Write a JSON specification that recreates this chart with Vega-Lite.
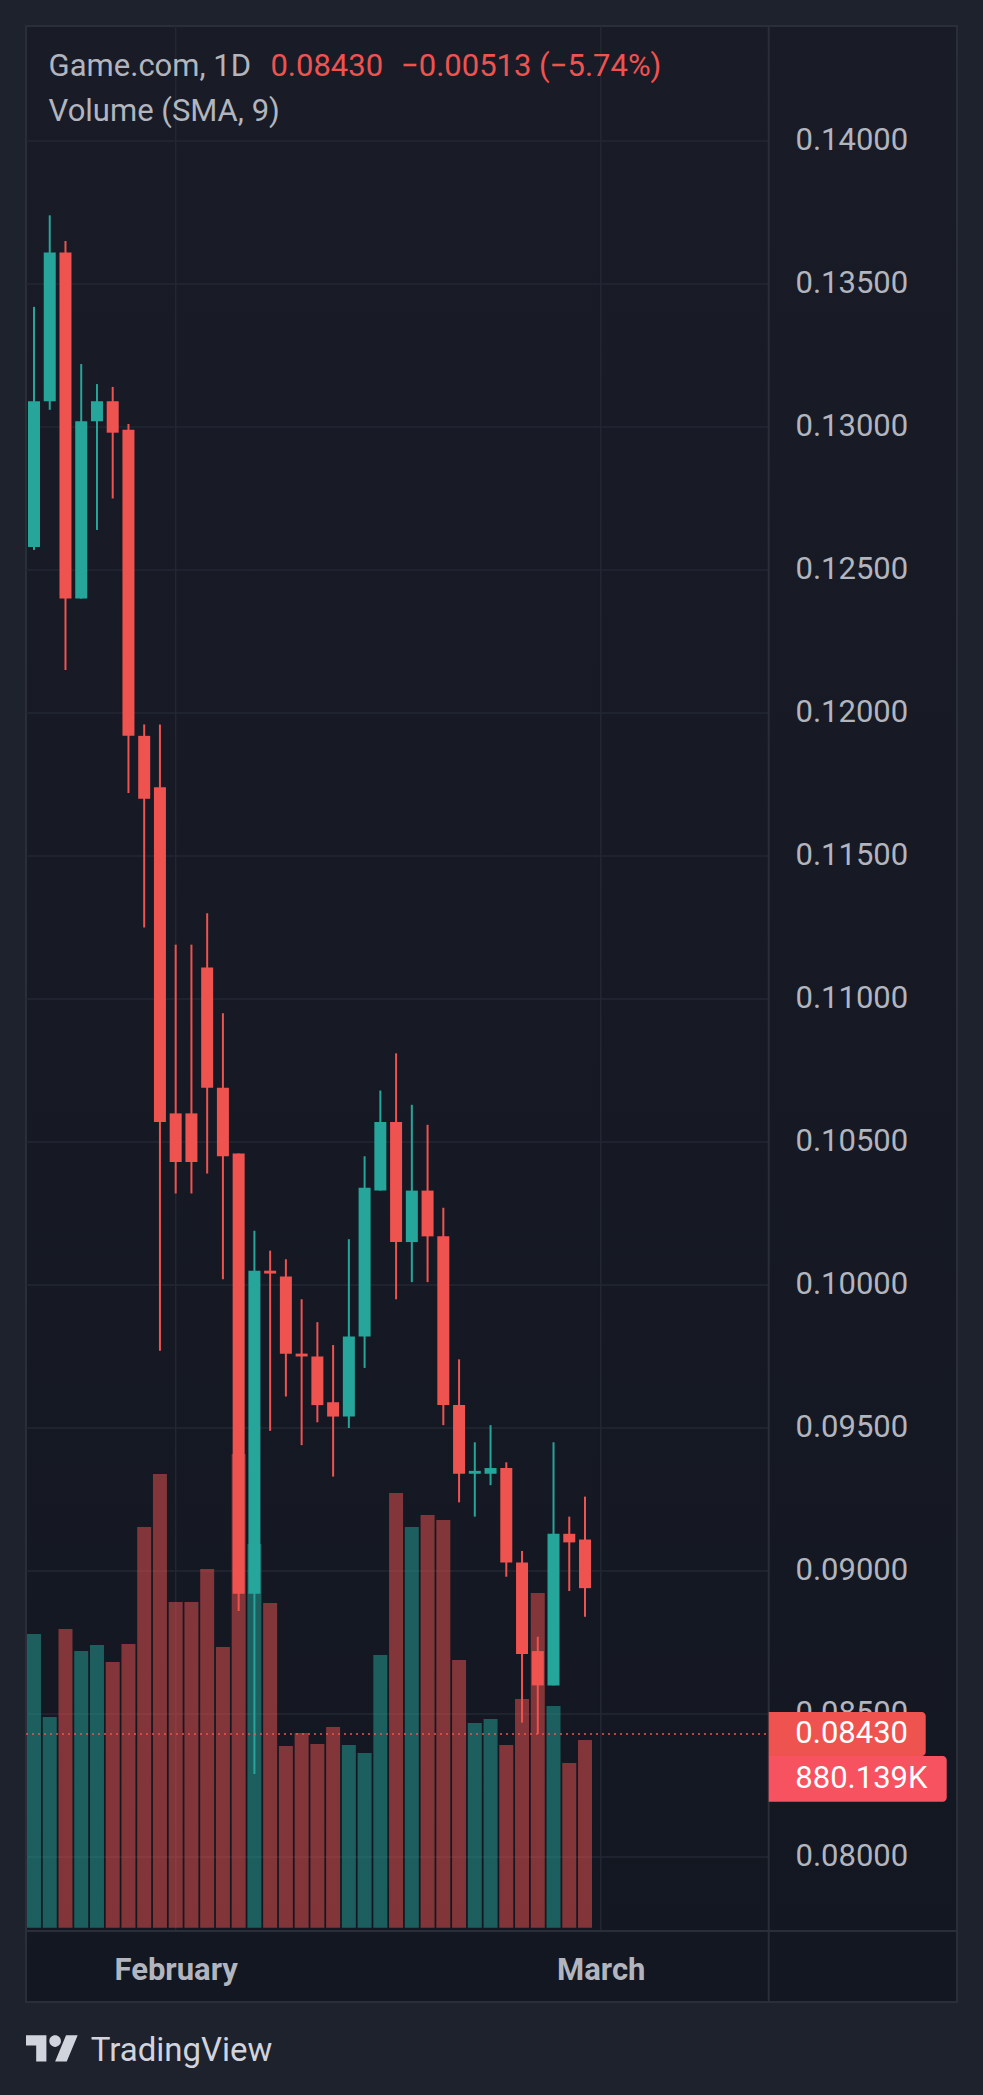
{
  "$schema": "https://vega.github.io/schema/vega-lite/v6.json",
  "width": 931,
  "height": 1976,
  "autosize": {"type": "none"},
  "padding": {"left": 26, "top": 26, "right": 26, "bottom": 93},
  "background": "#1e222d",
  "datasets": {
    "candles": [
      {"t": 1, "o": 0.1258, "h": 0.1342, "l": 0.1257, "c": 0.1309, "v": 1377, "dir": "up"},
      {"t": 2, "o": 0.1309, "h": 0.1374, "l": 0.1306, "c": 0.1361, "v": 988, "dir": "up"},
      {"t": 3, "o": 0.1361, "h": 0.1365, "l": 0.1215, "c": 0.1240, "v": 1401, "dir": "down"},
      {"t": 4, "o": 0.1240, "h": 0.1322, "l": 0.1240, "c": 0.1302, "v": 1297, "dir": "up"},
      {"t": 5, "o": 0.1302, "h": 0.1315, "l": 0.1264, "c": 0.1309, "v": 1326, "dir": "up"},
      {"t": 6, "o": 0.1309, "h": 0.1314, "l": 0.1275, "c": 0.1298, "v": 1246, "dir": "down"},
      {"t": 7, "o": 0.1299, "h": 0.1301, "l": 0.1172, "c": 0.1192, "v": 1330, "dir": "down"},
      {"t": 8, "o": 0.1192, "h": 0.1196, "l": 0.1125, "c": 0.1170, "v": 1879, "dir": "down"},
      {"t": 9, "o": 0.1174, "h": 0.1196, "l": 0.0977, "c": 0.1057, "v": 2127, "dir": "down"},
      {"t": 10, "o": 0.1060, "h": 0.1119, "l": 0.1032, "c": 0.1043, "v": 1527, "dir": "down"},
      {"t": 11, "o": 0.1060, "h": 0.1119, "l": 0.1032, "c": 0.1043, "v": 1527, "dir": "down"},
      {"t": 12, "o": 0.1111, "h": 0.1130, "l": 0.1039, "c": 0.1069, "v": 1682, "dir": "down"},
      {"t": 13, "o": 0.1069, "h": 0.1095, "l": 0.1002, "c": 0.1045, "v": 1316, "dir": "down"},
      {"t": 14, "o": 0.1046, "h": 0.1046, "l": 0.0886, "c": 0.0892, "v": 2221, "dir": "down"},
      {"t": 15, "o": 0.0892, "h": 0.1019, "l": 0.0829, "c": 0.1005, "v": 1799, "dir": "up"},
      {"t": 16, "o": 0.1005, "h": 0.1012, "l": 0.0949, "c": 0.1004, "v": 1523, "dir": "down"},
      {"t": 17, "o": 0.1003, "h": 0.1009, "l": 0.0961, "c": 0.0976, "v": 852, "dir": "down"},
      {"t": 18, "o": 0.0976, "h": 0.0995, "l": 0.0944, "c": 0.0975, "v": 913, "dir": "down"},
      {"t": 19, "o": 0.0975, "h": 0.0987, "l": 0.0952, "c": 0.0958, "v": 861, "dir": "down"},
      {"t": 20, "o": 0.0959, "h": 0.0979, "l": 0.0933, "c": 0.0954, "v": 941, "dir": "down"},
      {"t": 21, "o": 0.0954, "h": 0.1016, "l": 0.0950, "c": 0.0982, "v": 857, "dir": "up"},
      {"t": 22, "o": 0.0982, "h": 0.1045, "l": 0.0971, "c": 0.1034, "v": 819, "dir": "up"},
      {"t": 23, "o": 0.1033, "h": 0.1068, "l": 0.1033, "c": 0.1057, "v": 1279, "dir": "up"},
      {"t": 24, "o": 0.1057, "h": 0.1081, "l": 0.0995, "c": 0.1015, "v": 2038, "dir": "down"},
      {"t": 25, "o": 0.1015, "h": 0.1063, "l": 0.1001, "c": 0.1033, "v": 1879, "dir": "up"},
      {"t": 26, "o": 0.1033, "h": 0.1056, "l": 0.1001, "c": 0.1017, "v": 1935, "dir": "down"},
      {"t": 27, "o": 0.1017, "h": 0.1027, "l": 0.0951, "c": 0.0958, "v": 1912, "dir": "down"},
      {"t": 28, "o": 0.0958, "h": 0.0974, "l": 0.0924, "c": 0.0934, "v": 1255, "dir": "down"},
      {"t": 29, "o": 0.0934, "h": 0.0945, "l": 0.0919, "c": 0.0935, "v": 960, "dir": "up"},
      {"t": 30, "o": 0.0934, "h": 0.0951, "l": 0.0930, "c": 0.0936, "v": 979, "dir": "up"},
      {"t": 31, "o": 0.0936, "h": 0.0938, "l": 0.0898, "c": 0.0903, "v": 857, "dir": "down"},
      {"t": 32, "o": 0.0903, "h": 0.0907, "l": 0.0847, "c": 0.0871, "v": 1072, "dir": "down"},
      {"t": 33, "o": 0.0872, "h": 0.0877, "l": 0.0843, "c": 0.0860, "v": 1569, "dir": "down"},
      {"t": 34, "o": 0.0860, "h": 0.0945, "l": 0.0860, "c": 0.0913, "v": 1040, "dir": "up"},
      {"t": 35, "o": 0.0913, "h": 0.0919, "l": 0.0893, "c": 0.0910, "v": 772, "dir": "down"},
      {"t": 36, "o": 0.0911, "h": 0.0926, "l": 0.0884, "c": 0.0894, "v": 880.139, "dir": "down"}
    ],
    "levels": [
      {"p": 0.08}, {"p": 0.085}, {"p": 0.09}, {"p": 0.095}, {"p": 0.1}, {"p": 0.105},
      {"p": 0.11}, {"p": 0.115}, {"p": 0.12}, {"p": 0.125}, {"p": 0.13}, {"p": 0.135}, {"p": 0.14}
    ],
    "months": [{"t": 10, "month": "February"}, {"t": 37, "month": "March"}],
    "one": [{}]
  },
  "resolve": {"scale": {"y": "independent"}},
  "layer": [
    {
      "layer": [
        {
          "data": {"name": "levels"},
          "mark": {"type": "rule", "color": "#232733", "strokeWidth": 1.5},
          "encoding": {
            "y": {"field": "p", "type": "quantitative", "scale": {"domain": [0.07493, 0.14402], "nice": false, "zero": false}, "axis": null},
            "x": {"datum": 0.492, "type": "quantitative", "scale": {"domain": [0.492, 59.629], "nice": false, "zero": false, "padding": 0}},
            "x2": {"datum": 47.669}
          }
        },
        {
          "data": {"name": "months"},
          "mark": {"type": "rule", "color": "#232733", "strokeWidth": 1.5},
          "encoding": {
            "x": {"field": "t", "type": "quantitative"},
            "y": {"datum": 0.077413, "type": "quantitative", "axis": null},
            "y2": {"datum": 0.14402}
          }
        },
        {
          "data": {"name": "one"},
          "mark": {"type": "rule", "color": "#2a2e39", "strokeWidth": 2},
          "encoding": {
            "x": {"datum": 47.669, "type": "quantitative"},
            "y": {"datum": 0.07493, "type": "quantitative", "axis": null},
            "y2": {"datum": 0.14402}
          }
        },
        {
          "data": {"name": "one"},
          "mark": {"type": "rule", "color": "#2a2e39", "strokeWidth": 2},
          "encoding": {
            "y": {"datum": 0.077413, "type": "quantitative", "axis": null},
            "x": {"datum": 0.492, "type": "quantitative"},
            "x2": {"datum": 59.629}
          }
        }
      ]
    },
    {
      "data": {"name": "candles"},
      "mark": {"type": "bar", "size": 14, "opacity": 0.5},
      "encoding": {
        "x": {"field": "t", "type": "quantitative", "scale": {"padding": 0}},
        "y": {"field": "v", "type": "quantitative", "stack": null, "scale": {"domain": [-348.4, 8917], "nice": false, "zero": false}, "axis": null},
        "y2": {"datum": 0},
        "color": {"field": "dir", "type": "nominal", "scale": {"domain": ["up", "down"], "range": ["#26a69a", "#ef5350"]}, "legend": null}
      }
    },
    {
      "layer": [
        {
          "data": {"name": "candles"},
          "mark": {"type": "rule", "strokeWidth": 2},
          "encoding": {
            "x": {
              "field": "t", "type": "quantitative",
              "axis": {"values": [10, 37], "labelExpr": "datum.value == 10 ? 'February' : 'March'", "orient": "bottom", "offset": -71, "labelPadding": 48, "labelBaseline": "alphabetic", "labelFontWeight": "bold", "labelFontSize": 31, "labelFlush": false, "labelOverlap": false, "title": null}
            },
            "y": {
              "field": "l", "type": "quantitative",
              "scale": {"domain": [0.07493, 0.14402], "nice": false, "zero": false},
              "axis": {"orient": "right", "values": [0.08, 0.085, 0.09, 0.095, 0.1, 0.105, 0.11, 0.115, 0.12, 0.125, 0.13, 0.135, 0.14], "format": ".5f", "offset": -162, "labelPadding": 0, "labelFontSize": 31, "labelOverlap": false, "labelFlush": false, "title": null}
            },
            "y2": {"field": "h"},
            "color": {"field": "dir", "type": "nominal", "scale": {"domain": ["up", "down"], "range": ["#26a69a", "#ef5350"]}, "legend": null}
          }
        },
        {
          "data": {"name": "candles"},
          "mark": {"type": "bar", "size": 12},
          "encoding": {
            "x": {"field": "t", "type": "quantitative", "scale": {"padding": 0}},
            "y": {"field": "o", "type": "quantitative"},
            "y2": {"field": "c"},
            "color": {"field": "dir", "type": "nominal", "legend": null}
          }
        },
        {
          "data": {"name": "one"},
          "mark": {"type": "rule", "color": "#ef5350", "strokeWidth": 1.5, "strokeDash": [2, 4]},
          "encoding": {
            "y": {"datum": 0.0843, "type": "quantitative"},
            "x": {"datum": 0.492, "type": "quantitative"},
            "x2": {"datum": 47.669}
          }
        },
        {
          "data": {"name": "one"},
          "mark": {"type": "rect", "color": "#ef5350", "cornerRadiusTopRight": 4, "cornerRadiusBottomRight": 4},
          "encoding": {
            "x": {"datum": 47.669, "type": "quantitative"},
            "x2": {"datum": 57.641},
            "y": {"datum": 0.08507, "type": "quantitative"},
            "y2": {"datum": 0.083531}
          }
        },
        {
          "data": {"name": "one"},
          "mark": {"type": "rect", "color": "#f7525f", "cornerRadiusTopRight": 4, "cornerRadiusBottomRight": 4},
          "encoding": {
            "x": {"datum": 47.669, "type": "quantitative"},
            "x2": {"datum": 58.975},
            "y": {"datum": 0.083531, "type": "quantitative"},
            "y2": {"datum": 0.081934}
          }
        },
        {
          "data": {"name": "one"},
          "mark": {"type": "text", "text": "0.08430", "color": "#ffffff", "fontSize": 31, "align": "left", "baseline": "middle"},
          "encoding": {
            "x": {"datum": 49.358, "type": "quantitative"},
            "y": {"datum": 0.0843, "type": "quantitative"}
          }
        },
        {
          "data": {"name": "one"},
          "mark": {"type": "text", "text": "880.139K", "color": "#ffffff", "fontSize": 31, "align": "left", "baseline": "middle"},
          "encoding": {
            "x": {"datum": 49.358, "type": "quantitative"},
            "y": {"datum": 0.082727, "type": "quantitative"}
          }
        },
        {
          "data": {"name": "one"},
          "mark": {"type": "text", "text": "Game.com, 1D", "color": "#b2b5be", "fontSize": 31, "align": "left", "baseline": "alphabetic"},
          "encoding": {
            "x": {"datum": 1.928, "type": "quantitative"},
            "y": {"datum": 0.142273, "type": "quantitative"}
          }
        },
        {
          "data": {"name": "one"},
          "mark": {"type": "text", "text": "0.08430", "color": "#ef5350", "fontSize": 31, "align": "left", "baseline": "alphabetic"},
          "encoding": {
            "x": {"datum": 16.016, "type": "quantitative"},
            "y": {"datum": 0.142273, "type": "quantitative"}
          }
        },
        {
          "data": {"name": "one"},
          "mark": {"type": "text", "text": "−0.00513 (−5.74%)", "color": "#ef5350", "fontSize": 31, "align": "left", "baseline": "alphabetic"},
          "encoding": {
            "x": {"datum": 24.312, "type": "quantitative"},
            "y": {"datum": 0.142273, "type": "quantitative"}
          }
        },
        {
          "data": {"name": "one"},
          "mark": {"type": "text", "text": "Volume (SMA, 9)", "color": "#b2b5be", "fontSize": 31, "align": "left", "baseline": "alphabetic"},
          "encoding": {
            "x": {"datum": 1.928, "type": "quantitative"},
            "y": {"datum": 0.14071, "type": "quantitative"}
          }
        },
        {
          "data": {"name": "one"},
          "mark": {
            "type": "point", "filled": true, "color": "#d1d4dc", "opacity": 1, "size": 2670,
            "shape": "M-0.211,0.507L-0.606,0.507L-0.606,-0.113L-1,-0.113L-1,-0.507L-0.211,-0.507Z M0.577,0.507L0.127,0.507L0.549,-0.507L1,-0.507Z M-0.098,-0.282a0.225,0.225 0 1,0 0.45,0a0.225,0.225 0 1,0 -0.45,0Z"
          },
          "encoding": {
            "x": {"datum": 2.134, "type": "quantitative"},
            "y": {"datum": 0.073309, "type": "quantitative"}
          }
        },
        {
          "data": {"name": "one"},
          "mark": {"type": "text", "text": "TradingView", "color": "#d1d4dc", "fontSize": 33, "align": "left", "baseline": "alphabetic"},
          "encoding": {
            "x": {"datum": 4.602, "type": "quantitative"},
            "y": {"datum": 0.072878, "type": "quantitative"}
          }
        }
      ]
    }
  ],
  "config": {
    "font": "Roboto",
    "view": {
      "fill": {"gradient": "linear", "x1": 0, "y1": 0, "x2": 0, "y2": 1, "stops": [{"offset": 0, "color": "#191c27"}, {"offset": 1, "color": "#131722"}]},
      "stroke": "#2a2e39",
      "strokeWidth": 2
    },
    "axis": {"domain": false, "ticks": false, "grid": false, "labelColor": "#b2b5be", "labelFont": "Roboto"}
  }
}
